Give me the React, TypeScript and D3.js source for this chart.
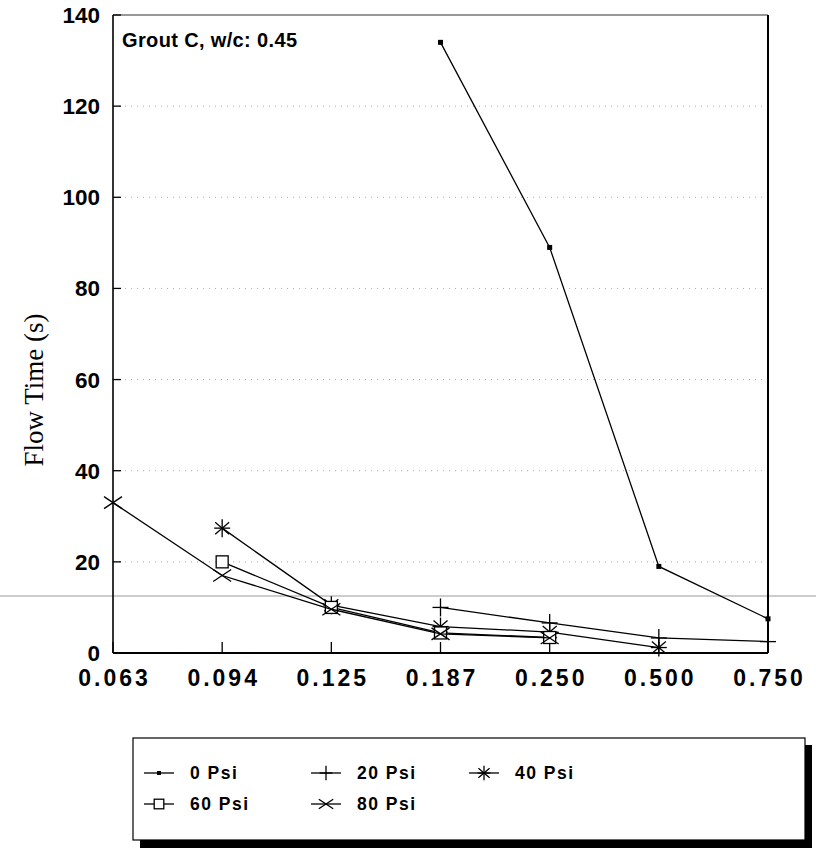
import React, { useEffect } from "react";
import * as d3 from "d3";

const categories = ["0.063", "0.094", "0.125", "0.187", "0.250", "0.500", "0.750"];
const yTicks = [0, 20, 40, 60, 80, 100, 120, 140];
const psi0: (number | null)[] = [null, null, null, 134, 89, 19, 7.5];
const psi20: (number | null)[] = [null, null, null, 10, 6.6, 3.3, 2.5];
const psi40: (number | null)[] = [null, 27.4, 10.5, 5.8, 4.6, 1.2, null];
const psi60: (number | null)[] = [null, 20, 10, 4.4, 3.4, null, null];
const psi80: (number | null)[] = [33, 17, 9.6, 4.2, 3.3, null, null];
const seriesNames = ["0 Psi", "20 Psi", "40 Psi", "60 Psi", "80 Psi"];
const seriesValues = [psi0, psi20, psi40, psi60, psi80];
const markerKinds = ["dot", "plus", "star", "square", "cross"];

const W = 816, H = 849;
const L = 113, R = 768, T = 15, B = 653;
const sansBold = "'Liberation Sans', Arial, sans-serif";

function Marker({ kind, x, y, s = 1 }: { kind: string; x: number; y: number; s?: number }) {
  const st = { stroke: "#000", strokeWidth: 1.3, fill: "none" } as any;
  if (kind === "dot") return <rect x={x - 2.5 * s} y={y - 2.5 * s} width={5 * s} height={5 * s} fill="#000" />;
  if (kind === "plus")
    return (
      <g {...st}>
        <line x1={x - 8 * s} y1={y} x2={x + 8 * s} y2={y} />
        <line x1={x} y1={y - 9 * s} x2={x} y2={y + 9 * s} />
      </g>
    );
  if (kind === "star")
    return (
      <g {...st}>
        <line x1={x} y1={y - 9 * s} x2={x} y2={y + 9 * s} />
        <line x1={x - 7 * s} y1={y - 6 * s} x2={x + 7 * s} y2={y + 6 * s} />
        <line x1={x - 7 * s} y1={y + 6 * s} x2={x + 7 * s} y2={y - 6 * s} />
        <line x1={x - 8 * s} y1={y} x2={x + 8 * s} y2={y} />
      </g>
    );
  if (kind === "square")
    return <rect x={x - 6 * s} y={y - 6 * s} width={12 * s} height={12 * s} fill="#fff" stroke="#000" strokeWidth={1.3} />;
  return (
    <g {...st}>
      <line x1={x - 9 * s} y1={y - 6 * s} x2={x + 9 * s} y2={y + 6 * s} />
      <line x1={x - 9 * s} y1={y + 6 * s} x2={x + 9 * s} y2={y - 6 * s} />
    </g>
  );
}

export default function App() {
  useEffect(() => {
    document.body.style.margin = "0";
  }, []);
  const x = d3.scalePoint<string>().domain(categories).range([L, R]);
  const y = d3.scaleLinear().domain([0, 140]).range([B, T]);
  const line = d3
    .line<number | null>()
    .defined((d) => d !== null)
    .x((_, i) => x(categories[i]) as number)
    .y((d) => y(d as number));

  const legendPos = [
    { x: 144, y: 773 },
    { x: 311, y: 773 },
    { x: 469, y: 773 },
    { x: 144, y: 804 },
    { x: 311, y: 804 },
  ];

  return (
    <svg width={W} height={H} style={{ display: "block", background: "#fff" }}>
      {yTicks.slice(1, -1).map((t) => (
        <line key={t} x1={L} x2={R} y1={y(t)} y2={y(t)} stroke="#aaa" strokeWidth={1} strokeDasharray="1,5" />
      ))}
      <line x1={0} x2={W} y1={596} y2={596} stroke="#9a9a9a" strokeWidth={1} />
      <line x1={L} x2={R} y1={T} y2={T} stroke="#333" strokeWidth={1.2} />
      <line x1={L} x2={L} y1={T} y2={B} stroke="#000" strokeWidth={1.6} />
      <line x1={R} x2={R} y1={T} y2={B} stroke="#000" strokeWidth={2} />
      <line x1={L} x2={R} y1={B} y2={B} stroke="#000" strokeWidth={1.8} />
      {yTicks.map((t) => (
        <g key={t}>
          <line x1={L} x2={L + 8} y1={y(t)} y2={y(t)} stroke="#000" strokeWidth={1.3} />
          <text
            x={100}
            y={y(t) + 8}
            textAnchor="end"
            fontFamily={sansBold}
            fontWeight="bold"
            fontSize={22.5}
          >
            {t}
          </text>
        </g>
      ))}
      {categories.map((c) => (
        <g key={c}>
          <line x1={x(c)} x2={x(c)} y1={B} y2={B - 11} stroke="#000" strokeWidth={1.3} />
          <text
            x={(x(c) as number) + 1.5}
            y={686}
            textAnchor="middle"
            fontFamily={sansBold}
            fontWeight="bold"
            fontSize={23}
            letterSpacing={3}
          >
            {c}
          </text>
        </g>
      ))}
      <text x={122} y={47} fontFamily={sansBold} fontWeight="bold" fontSize={20} textLength={175} lengthAdjust="spacing">
        Grout C, w/c: 0.45
      </text>
      <text
        transform={`translate(43,390) rotate(-90)`}
        textAnchor="middle"
        fontFamily="'Liberation Serif', 'DejaVu Serif', serif"
        fontSize={27}
      >
        Flow Time (s)
      </text>
      {seriesValues.map((vals, si) => (
        <g key={si}>
          <path d={line(vals) || ""} fill="none" stroke="#000" strokeWidth={1.3} />
          {vals.map((v, i) =>
            v === null ? null : (
              <Marker key={i} kind={markerKinds[si]} x={x(categories[i]) as number} y={y(v)} />
            )
          )}
        </g>
      ))}
      <rect x={140} y={745} width={672} height={103} fill="#000" />
      <rect x={133} y={738} width={672} height={102} fill="#fff" stroke="#000" strokeWidth={1.2} />
      {seriesNames.map((n, i) => (
        <g key={n}>
          <line x1={legendPos[i].x} x2={legendPos[i].x + 30} y1={legendPos[i].y} y2={legendPos[i].y} stroke="#000" strokeWidth={1.3} />
          <Marker kind={markerKinds[i]} x={legendPos[i].x + 15} y={legendPos[i].y} s={0.8} />
          <text
            x={legendPos[i].x + 46}
            y={legendPos[i].y + 6}
            fontFamily={sansBold}
            fontWeight="bold"
            fontSize={17.5}
            letterSpacing={1.5}
          >
            {n}
          </text>
        </g>
      ))}
    </svg>
  );
}
